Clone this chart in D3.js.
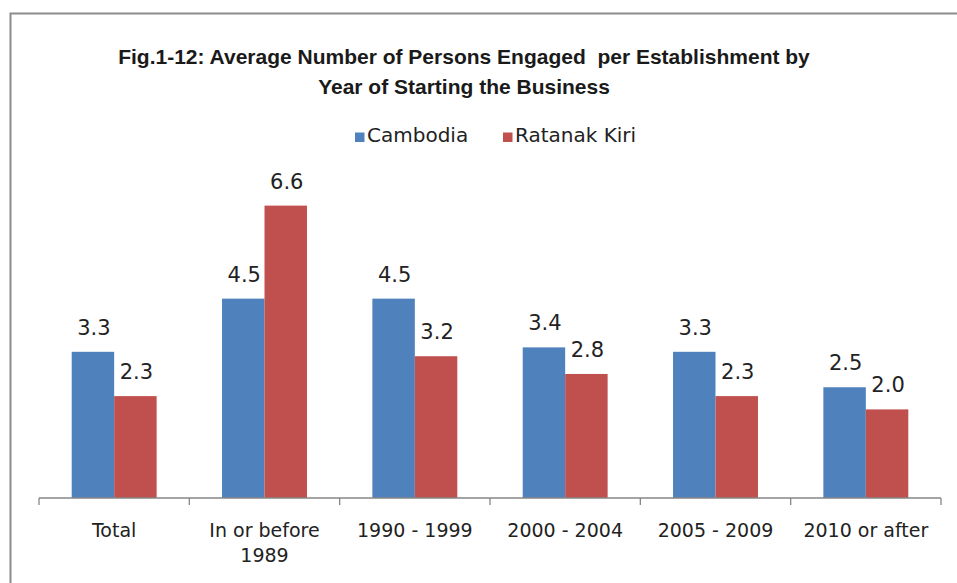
<!DOCTYPE html>
<html>
<head>
<meta charset="utf-8">
<script src="https://cdn.jsdelivr.net/npm/d3@7"></script>
<style>
  body { margin: 0; background: #fff; }
  svg { display: block; }
</style>
</head>
<body>
<div id="chart"></div>
<script>
// Chart data
const categories = ["Total", "In or before\n1989", "1990 - 1999", "2000 - 2004", "2005 - 2009", "2010 or after"];
const seriesNames = ["Cambodia", "Ratanak Kiri"];
const cambodia = [3.3, 4.5, 4.5, 3.4, 3.3, 2.5];
const ratanakKiri = [2.3, 6.6, 3.2, 2.8, 2.3, 2.0];
const titleLines = ["Fig.1-12: Average Number of Persons Engaged  per Establishment by", "Year of Starting the Business"];

const width = 957;
const height = 583;
const colors = ["#4F81BD", "#C0504D"];
const labelFont = "'DejaVu Sans', sans-serif";

const svg = d3.select("#chart").append("svg")
    .attr("width", width)
    .attr("height", height);

// Frame around the chart area
svg.append("rect")
    .attr("x", 10.5)
    .attr("y", 13.5)
    .attr("width", 960)
    .attr("height", 600)
    .attr("fill", "none")
    .attr("stroke", "#8c8c8c")
    .attr("stroke-width", 2);

// Scales
const x0 = d3.scaleBand()
    .domain(categories)
    .range([39, 941])
    .paddingInner(0.435)
    .paddingOuter(0.2175);

const x1 = d3.scaleBand()
    .domain(seriesNames)
    .range([0, x0.bandwidth()]);

const y = d3.scaleLinear()
    .domain([0, 7])
    .range([498, 498 - 7 * 44.3]);

const rows = categories.map((c, i) => ({ cat: c, values: [cambodia[i], ratanakKiri[i]] }));

// Title
svg.append("text")
    .attr("x", 464)
    .attr("y", 64)
    .attr("text-anchor", "middle")
    .attr("font-family", "'Liberation Sans', sans-serif")
    .attr("font-weight", "bold")
    .attr("font-size", 21)
    .attr("fill", "#1a1a1a")
    .selectAll("tspan")
    .data(titleLines)
    .enter()
    .append("tspan")
    .attr("x", 464)
    .attr("dy", (d, i) => i === 0 ? 0 : 30)
    .attr("xml:space", "preserve")
    .text(d => d);

// Legend
const legend = svg.append("g").attr("transform", "translate(355, 142)");
const legendX = [0, 148];
seriesNames.forEach((name, i) => {
  const g = legend.append("g").attr("transform", `translate(${legendX[i]}, 0)`);
  g.append("rect")
      .attr("x", 0)
      .attr("y", -9.5)
      .attr("width", 9.5)
      .attr("height", 9.5)
      .attr("fill", colors[i]);
  g.append("text")
      .attr("x", 12)
      .attr("y", 0)
      .attr("font-family", labelFont)
      .attr("font-size", 20)
      .attr("fill", "#222")
      .text(name);
});

// Bars
const groups = svg.append("g")
    .selectAll("g")
    .data(rows)
    .enter()
    .append("g")
    .attr("transform", d => `translate(${x0(d.cat)}, 0)`);

groups.selectAll("rect")
    .data(d => d.values.map((v, i) => ({ name: seriesNames[i], value: v, idx: i })))
    .enter()
    .append("rect")
    .attr("x", d => x1(d.name))
    .attr("y", d => y(d.value))
    .attr("width", x1.bandwidth())
    .attr("height", d => y(0) - y(d.value))
    .attr("fill", d => colors[d.idx]);

// Value labels
groups.selectAll("text")
    .data(d => d.values.map((v, i) => ({ name: seriesNames[i], value: v })))
    .enter()
    .append("text")
    .attr("x", d => x1(d.name) + x1.bandwidth() / 2 + 1)
    .attr("y", d => y(d.value) - 17)
    .attr("text-anchor", "middle")
    .attr("font-family", labelFont)
    .attr("font-size", 21)
    .attr("fill", "#222")
    .text(d => d3.format(".1f")(d.value));

// X axis: line with ticks at category boundaries
const axis = svg.append("g").attr("stroke", "#868686").attr("stroke-width", 1.3);
axis.append("line")
    .attr("x1", 39).attr("x2", 941)
    .attr("y1", y(0)).attr("y2", y(0));

const step = x0.step();
const boundaries = d3.range(categories.length + 1).map(i => 39 + i * step);
axis.selectAll("line.tick")
    .data(boundaries)
    .enter()
    .append("line")
    .attr("class", "tick")
    .attr("x1", d => d).attr("x2", d => d)
    .attr("y1", y(0)).attr("y2", y(0) + 7);

// Category labels
const catLabels = svg.append("g")
    .selectAll("text")
    .data(categories)
    .enter()
    .append("text")
    .attr("x", d => x0(d) + x0.bandwidth() / 2)
    .attr("y", 537)
    .attr("text-anchor", "middle")
    .attr("font-family", labelFont)
    .attr("font-size", 19)
    .attr("fill", "#222");

catLabels.selectAll("tspan")
    .data(d => d.split("\n").map(line => ({ line, cat: d })))
    .enter()
    .append("tspan")
    .attr("x", d => x0(d.cat) + x0.bandwidth() / 2)
    .attr("dy", (d, i) => i === 0 ? 0 : 25)
    .text(d => d.line);
</script>
</body>
</html>
